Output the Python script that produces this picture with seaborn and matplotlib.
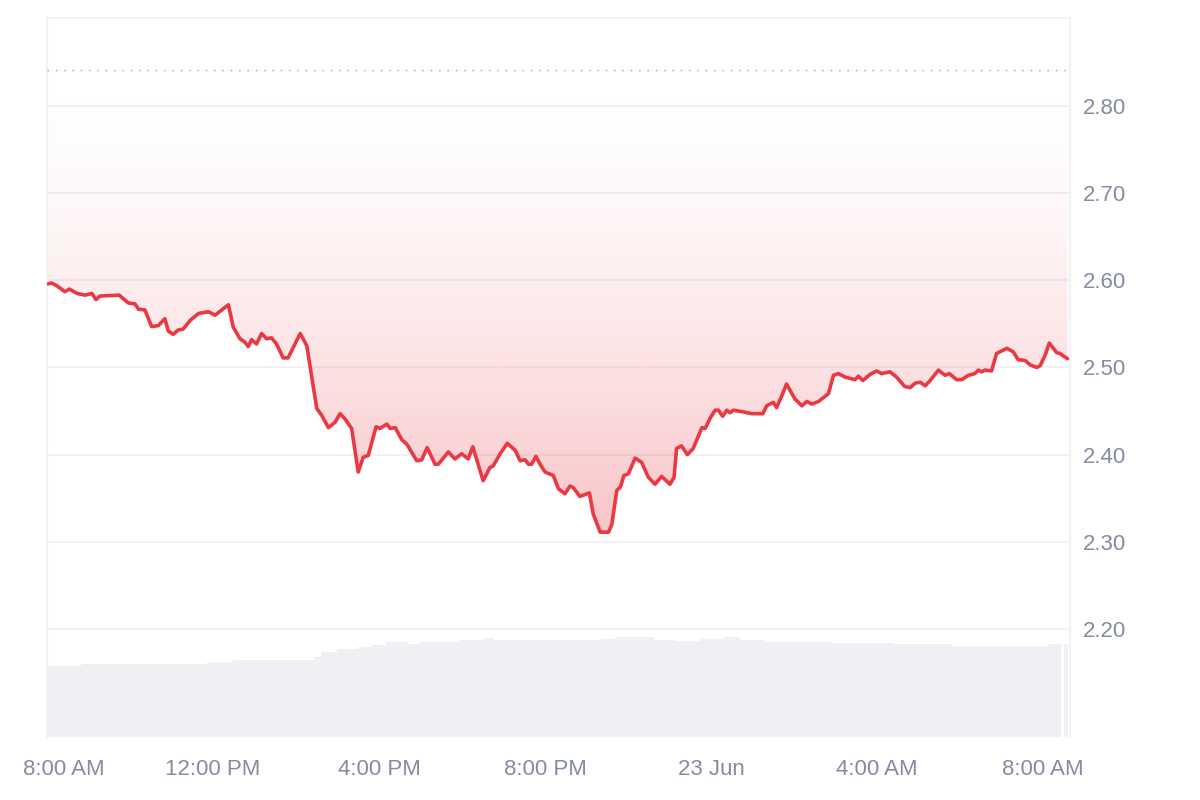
import numpy as np
import matplotlib
matplotlib.use('Agg')
import matplotlib.pyplot as plt
import matplotlib.transforms as mtransforms
from matplotlib.colors import to_rgb
import seaborn as sns

# hours after 22 Jun 08:00
hours = [0.03, 0.11, 0.23, 0.43, 0.54, 0.72, 0.92, 1.08, 1.18, 1.28, 1.74, 1.96, 2.12, 2.20,
         2.36, 2.52, 2.68, 2.84, 2.92, 3.04, 3.16, 3.28, 3.45, 3.65, 3.89, 4.05, 4.21, 4.37,
         4.49, 4.65, 4.77, 4.85, 4.93, 5.05, 5.17, 5.29, 5.41, 5.53, 5.69, 5.81, 6.10, 6.26,
         6.50, 6.62, 6.78, 6.94, 7.06, 7.18, 7.34, 7.50, 7.62, 7.74, 7.93, 8.02, 8.19, 8.27,
         8.39, 8.55, 8.67, 8.91, 9.03, 9.16, 9.35, 9.43, 9.67, 9.83, 9.99, 10.15, 10.26, 10.51,
         10.67, 10.75, 10.92, 11.09, 11.28, 11.40, 11.52, 11.60, 11.68, 11.78, 11.88, 12.00,
         12.20, 12.32, 12.48, 12.60, 12.68, 12.84, 13.07, 13.16, 13.33, 13.53, 13.61, 13.73,
         13.82, 13.90, 14.01, 14.17, 14.33, 14.49, 14.65, 14.81, 15.01, 15.11, 15.17, 15.29,
         15.43, 15.57, 15.78, 15.86, 15.98, 16.10, 16.18, 16.28, 16.38, 16.46, 16.54, 16.78,
         16.98, 17.25, 17.34, 17.50, 17.58, 17.70, 17.82, 18.02, 18.19, 18.31, 18.43, 18.59,
         18.83, 18.95, 19.07, 19.23, 19.47, 19.55, 19.66, 19.83, 19.99, 20.11, 20.31, 20.47,
         20.67, 20.80, 20.92, 21.04, 21.16, 21.28, 21.48, 21.64, 21.74, 21.92, 22.04, 22.20,
         22.36, 22.44, 22.52, 22.60, 22.76, 22.88, 22.96, 23.13, 23.28, 23.40, 23.57, 23.69,
         23.85, 23.93, 24.05, 24.15, 24.33, 24.41, 24.59]
price = [2.596, 2.597, 2.594, 2.587, 2.590, 2.585, 2.583, 2.585, 2.578, 2.582, 2.583, 2.574, 2.573, 2.567,
         2.566, 2.547, 2.548, 2.556, 2.542, 2.538, 2.543, 2.544, 2.554, 2.562, 2.564, 2.560, 2.566, 2.572,
         2.546, 2.533, 2.529, 2.524, 2.532, 2.527, 2.539, 2.533, 2.534, 2.527, 2.511, 2.511, 2.539, 2.525,
         2.453, 2.445, 2.431, 2.437, 2.447, 2.441, 2.430, 2.380, 2.397, 2.399, 2.432, 2.430, 2.435, 2.430,
         2.431, 2.417, 2.412, 2.393, 2.394, 2.408, 2.389, 2.389, 2.403, 2.395, 2.401, 2.395, 2.409, 2.370,
         2.385, 2.387, 2.401, 2.413, 2.405, 2.393, 2.394, 2.389, 2.389, 2.398, 2.389, 2.380,
         2.376, 2.361, 2.355, 2.364, 2.362, 2.352, 2.356, 2.332, 2.311, 2.311, 2.320, 2.359,
         2.363, 2.376, 2.378, 2.396, 2.391, 2.374, 2.366, 2.375, 2.366, 2.374, 2.407, 2.410,
         2.400, 2.407, 2.431, 2.430, 2.442, 2.451, 2.451, 2.444, 2.451, 2.448, 2.451, 2.449,
         2.447, 2.447, 2.456, 2.460, 2.454, 2.467, 2.481, 2.464, 2.456, 2.461, 2.458, 2.461,
         2.470, 2.491, 2.493, 2.489, 2.486, 2.490, 2.485, 2.492, 2.496, 2.493, 2.495, 2.489,
         2.478, 2.477, 2.482, 2.483, 2.479, 2.485, 2.497, 2.491, 2.493, 2.486, 2.486, 2.491,
         2.493, 2.497, 2.495, 2.497, 2.496, 2.516, 2.518, 2.522, 2.518, 2.509, 2.508, 2.503,
         2.500, 2.502, 2.514, 2.528, 2.517, 2.516, 2.510]

# volume blocks (start hour, end hour, volume in M)
vol_start = [0.0, 0.83, 3.86, 4.48, 6.43, 6.60, 6.99, 7.49, 7.81, 8.17, 8.70, 9.01, 9.93, 10.53,
             10.77, 13.33, 13.69, 14.63, 15.13, 15.73, 16.31, 16.70, 17.30, 18.87, 20.39, 21.81,
             24.12, 24.50]
vol_end = [0.83, 3.86, 4.48, 6.43, 6.60, 6.99, 7.49, 7.81, 8.17, 8.70, 9.01, 9.93, 10.53, 10.77,
           13.33, 13.69, 14.63, 15.13, 15.73, 16.31, 16.70, 17.30, 18.87, 20.39, 21.81, 24.12,
           24.43, 24.60]
vol_m = [71.0, 72.7, 75.0, 77.0, 80.3, 85.3, 87.7, 90.3, 92.0, 94.7, 93.0, 95.0, 97.0, 98.7,
         96.7, 97.7, 100.3, 97.0, 96.3, 98.3, 99.7, 97.0, 95.0, 94.3, 92.7, 91.0, 92.7, 93.0]

ref_price = 2.841
price_ticks = [2.20, 2.30, 2.40, 2.50, 2.60, 2.70, 2.80]
tick_hours = [0, 4, 8, 12, 16, 20, 24]
tick_labels = ['8:00 AM', '12:00 PM', '4:00 PM', '8:00 PM', '23 Jun', '4:00 AM', '8:00 AM']

sns.set_style('white')
plt.rcParams['font.family'] = ['Liberation Sans', 'DejaVu Sans']

red = '#ea3943'
txt = '#858ca2'
line_c = '#eff1f4'

fig = plt.figure(figsize=(12, 8), dpi=100)
pos = [0.03917, 0.07875, 0.8525, 0.89875]
x_max = 24.65

# volume underneath
ax_vol = fig.add_axes(pos)
ax_vol.bar(vol_start, vol_m, width=np.subtract(vol_end, vol_start), align='edge',
           color='#eef0f3', linewidth=0)
ax_vol.set_xlim(0, x_max)
ax_vol.set_ylim(0, 719)
ax_vol.axis('off')

ax = fig.add_axes(pos)
ax.patch.set_visible(False)
sns.lineplot(x=hours, y=price, ax=ax, color=red, linewidth=2.6, zorder=4,
             solid_joinstyle='round', solid_capstyle='round')

# gradient area between the line and the reference level
n = 256
s = np.linspace(0, 1, n)
alpha = 0.3 * (1 - s) ** 1.6
rgba = np.zeros((n, 2, 4))
rgba[..., :3] = to_rgb(red)
rgba[..., 3] = alpha[:, None]
im = ax.imshow(rgba, extent=[hours[0], hours[-1], min(price), ref_price], origin='lower',
               aspect='auto', interpolation='bilinear', zorder=1)
area = ax.fill_between(hours, price, ref_price, color='none', linewidth=0)
im.set_clip_path(area.get_paths()[0], transform=ax.transData)

ax.axhline(ref_price, color='#9aa1b1', linewidth=1.0, linestyle=(0, (1, 5)), zorder=3)

ax.set_xlim(0, x_max)
ax.set_ylim(2.0759, 2.9011)
ax.set_yticks(price_ticks)
ax.set_yticklabels([f'{v:.2f}' for v in price_ticks])
ax.yaxis.tick_right()
ax.yaxis.grid(True, color=line_c, linewidth=1.3)
ax.set_axisbelow(True)
ax.set_xticks(tick_hours)
ax.set_xticklabels(tick_labels)
ax.tick_params(axis='y', length=0, pad=9, labelsize=16, labelcolor=txt)
ax.tick_params(axis='x', length=0, pad=16, labelsize=16, labelcolor=txt)
ax.set_xlabel('')
ax.set_ylabel('')

for side in ['left', 'right', 'top']:
    ax.spines[side].set_color(line_c)
    ax.spines[side].set_linewidth(1.5)
ax.spines['bottom'].set_visible(False)

# first time label sits a little to the right of its tick
first = ax.get_xticklabels()[0]
first.set_transform(first.get_transform() + mtransforms.ScaledTranslation(0.17, 0, fig.dpi_scale_trans))

fig.savefig('out.png', dpi=100)
